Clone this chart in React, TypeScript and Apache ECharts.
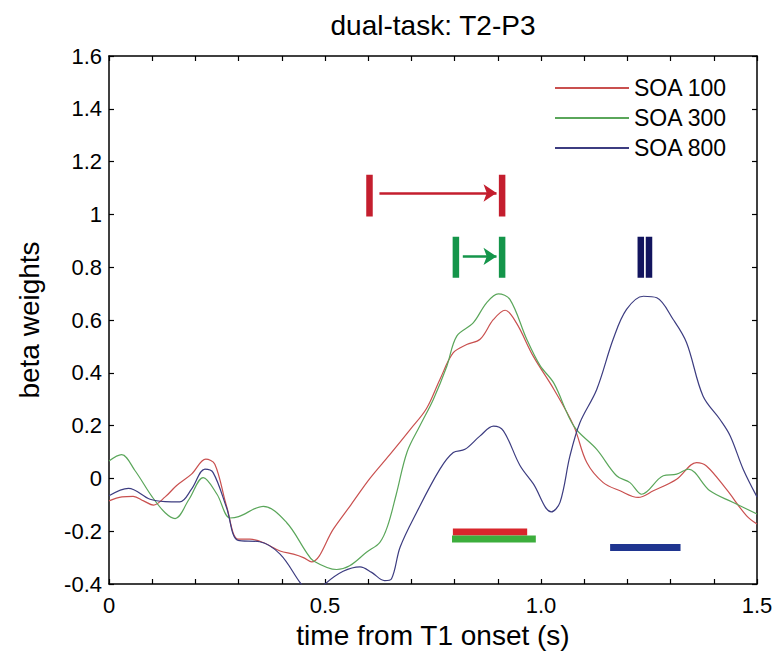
import React, { useEffect, useRef } from "react";
import * as echarts from "echarts";

const FONT = '"Liberation Sans", Arial, Helvetica, sans-serif';

// time axis (s) and beta weights for each SOA condition
const tSOA100 = [0, 0.03, 0.056, 0.08, 0.103, 0.13, 0.156, 0.191, 0.224, 0.245, 0.272, 0.299, 0.326, 0.357, 0.396, 0.427, 0.45, 0.469, 0.52, 0.56, 0.604, 0.65, 0.697, 0.735, 0.766, 0.797, 0.828, 0.859, 0.89, 0.917, 0.943, 0.982, 1.03, 1.076, 1.106, 1.144, 1.183, 1.225, 1.26, 1.314, 1.36, 1.383, 1.429, 1.476, 1.5];
const vSOA100 = [-0.085, -0.07, -0.068, -0.085, -0.101, -0.07, -0.028, 0.016, 0.073, 0.054, -0.104, -0.23, -0.23, -0.243, -0.275, -0.287, -0.3, -0.316, -0.19, -0.1, 0.0, 0.09, 0.185, 0.265, 0.375, 0.476, 0.507, 0.527, 0.602, 0.637, 0.589, 0.463, 0.337, 0.198, 0.06, -0.016, -0.047, -0.072, -0.047, -0.003, 0.06, 0.047, -0.041, -0.142, -0.173];

const tSOA300 = [0, 0.029, 0.06, 0.1, 0.13, 0.153, 0.185, 0.218, 0.25, 0.28, 0.3, 0.357, 0.411, 0.457, 0.473, 0.527, 0.557, 0.596, 0.627, 0.645, 0.665, 0.69, 0.72, 0.751, 0.782, 0.805, 0.843, 0.874, 0.901, 0.928, 0.967, 0.998, 1.03, 1.076, 1.129, 1.175, 1.206, 1.233, 1.283, 1.314, 1.341, 1.391, 1.445, 1.5];
const vSOA300 = [0.066, 0.09, 0.03, -0.07, -0.13, -0.152, -0.08, 0.003, -0.06, -0.15, -0.145, -0.106, -0.167, -0.28, -0.312, -0.345, -0.331, -0.28, -0.242, -0.18, -0.06, 0.1, 0.2, 0.3, 0.425, 0.539, 0.589, 0.665, 0.699, 0.678, 0.527, 0.427, 0.36, 0.198, 0.11, 0.01, -0.016, -0.06, 0.01, 0.016, 0.035, -0.047, -0.091, -0.135];

const tSOA800 = [0, 0.045, 0.095, 0.13, 0.164, 0.191, 0.222, 0.241, 0.272, 0.299, 0.349, 0.396, 0.442, 0.46, 0.48, 0.5, 0.542, 0.581, 0.608, 0.638, 0.654, 0.674, 0.712, 0.766, 0.797, 0.824, 0.859, 0.89, 0.913, 0.951, 0.982, 1.024, 1.044, 1.067, 1.09, 1.129, 1.167, 1.198, 1.237, 1.268, 1.306, 1.337, 1.375, 1.414, 1.438, 1.468, 1.5];
const vSOA800 = [-0.066, -0.038, -0.079, -0.088, -0.089, -0.041, 0.035, 0.022, -0.11, -0.235, -0.24, -0.287, -0.394, -0.43, -0.44, -0.4, -0.352, -0.335, -0.356, -0.387, -0.38, -0.26, -0.129, 0.035, 0.098, 0.11, 0.161, 0.198, 0.18, 0.05, -0.02, -0.127, -0.091, 0.085, 0.211, 0.337, 0.527, 0.64, 0.69, 0.684, 0.602, 0.514, 0.312, 0.224, 0.161, 0.035, -0.07];

const seriesNames = ["SOA 100", "SOA 300", "SOA 800"];
const curveColors = ["#c9504f", "#5aa65a", "#3c3c80"];

// significance windows (start s, end s, level)
const sigStart = [0.796, 0.794, 1.16];
const sigEnd = [0.968, 0.988, 1.323];
const sigLevel = [-0.203, -0.23, -0.262];
const sigColors = ["#d8262c", "#3cae3c", "#1f3590"];

// latency markers (two times per condition, vertical extent)
const markTimes = [[0.603, 0.91], [0.803, 0.91], [1.231, 1.25]];
const markLow = [0.992, 0.76, 0.76];
const markHigh = [1.15, 0.915, 0.915];
const markColors = ["#c41e2e", "#14954a", "#12145e"];
// arrows (from, to, level)
const arrowFrom = [0.626, 0.819];
const arrowTo = [0.897, 0.897];
const arrowLevel = [1.081, 0.841];

const yTicks = ["1.6", "1.4", "1.2", "1", "0.8", "0.6", "0.4", "0.2", "0", "-0.2", "-0.4"];
const xTickLabels: Record<number, string> = { 0: "0", 5: "0.5", 10: "1.0", 15: "1.5" };

const zip = (t: number[], v: number[]) => t.map((x, i) => [x, v[i]]);

export default function App() {
  const ref = useRef<HTMLDivElement>(null);
  useEffect(() => {
    if (!ref.current) return;
    const chart = echarts.init(ref.current, undefined, { renderer: "svg" });
    const curves = [zip(tSOA100, vSOA100), zip(tSOA300, vSOA300), zip(tSOA800, vSOA800)];
    const series: any[] = curves.map((d, i) => ({
      name: seriesNames[i],
      type: "line",
      data: d,
      smooth: 0.35,
      symbol: "none",
      clip: true,
      silent: true,
      lineStyle: { color: curveColors[i], width: 1.2 },
      itemStyle: { color: curveColors[i] },
      z: 3,
    }));
    sigStart.forEach((s, i) => {
      series.push({
        type: "line",
        data: [[s, sigLevel[i]], [sigEnd[i], sigLevel[i]]],
        symbol: "none",
        silent: true,
        lineStyle: { color: sigColors[i], width: 7, cap: "butt" },
        z: 4,
      });
    });
    markTimes.forEach((pair, i) => {
      pair.forEach((t, j) => {
        const s: any = {
          type: "line",
          data: [[t, markLow[i]], [t, markHigh[i]]],
          symbol: "none",
          silent: true,
          lineStyle: { color: markColors[i], width: 6.5, cap: "butt" },
          z: 4,
        };
        if (j === 0 && i < arrowFrom.length) {
          s.markLine = {
            silent: true,
            symbol: ["none", "arrow"],
            symbolSize: 13,
            label: { show: false },
            emphasis: { disabled: true },
            itemStyle: { color: markColors[i] },
            lineStyle: { color: markColors[i], width: 2.5, type: "solid" },
            data: [[{ coord: [arrowFrom[i], arrowLevel[i]] }, { coord: [arrowTo[i], arrowLevel[i]] }]],
          };
        }
        series.push(s);
      });
    });

    const axisLine = { show: true, onZero: false, lineStyle: { color: "#000", width: 1.5 } };
    const axisTick = { show: true, inside: true, length: 5, lineStyle: { color: "#000", width: 1.2 } };

    chart.setOption({
      animation: false,
      backgroundColor: "#fff",
      title: {
        text: "dual-task: T2-P3",
        left: 433,
        textAlign: "center",
        top: 11,
        padding: 0,
        textStyle: { fontSize: 28, fontWeight: "normal", color: "#000", fontFamily: FONT },
      },
      legend: {
        data: seriesNames,
        orient: "vertical",
        left: 555,
        top: 76,
        padding: 0,
        itemGap: 6,
        icon: "rect",
        itemWidth: 74,
        itemHeight: 2,
        selectedMode: false,
        textStyle: { fontSize: 23, color: "#000", fontFamily: FONT, lineHeight: 24 },
      },
      grid: { left: 109, right: 20, top: 56, bottom: 69, containLabel: false },
      xAxis: [
        {
          type: "value",
          min: 0,
          max: 1.5,
          interval: 0.1,
          position: "bottom",
          axisLine,
          axisTick,
          splitLine: { show: false },
          axisLabel: {
            show: true,
            showMinLabel: true,
            showMaxLabel: true,
            margin: 10,
            fontSize: 22,
            color: "#000",
            fontFamily: FONT,
            formatter: (v: number) => xTickLabels[Math.round(v * 10)] ?? "",
          },
          name: "time from T1 onset (s)",
          nameLocation: "middle",
          nameGap: 37,
          nameTextStyle: { fontSize: 28, color: "#000", fontFamily: FONT },
        },
        {
          type: "value",
          min: 0,
          max: 1.5,
          interval: 0.1,
          position: "top",
          axisLine,
          axisTick,
          splitLine: { show: false },
          axisLabel: { show: false },
        },
      ],
      yAxis: [
        {
          type: "value",
          min: -0.4,
          max: 1.6,
          interval: 0.2,
          position: "left",
          axisLine,
          axisTick,
          splitLine: { show: false },
          axisLabel: {
            margin: 7,
            fontSize: 22,
            color: "#000",
            fontFamily: FONT,
            showMinLabel: true,
            showMaxLabel: true,
            formatter: (v: number) => yTicks[Math.round((1.6 - v) / 0.2)] ?? "",
          },
          name: "beta weights",
          nameLocation: "middle",
          nameGap: 66,
          nameTextStyle: { fontSize: 28, color: "#000", fontFamily: FONT },
        },
        {
          type: "value",
          min: -0.4,
          max: 1.6,
          interval: 0.2,
          position: "right",
          axisLine,
          axisTick,
          splitLine: { show: false },
          axisLabel: { show: false },
        },
      ],
      series,
    });
    return () => chart.dispose();
  }, []);
  return (
    <div
      ref={ref}
      style={{ position: "absolute", left: 0, top: 0, width: 777, height: 654 }}
    />
  );
}
